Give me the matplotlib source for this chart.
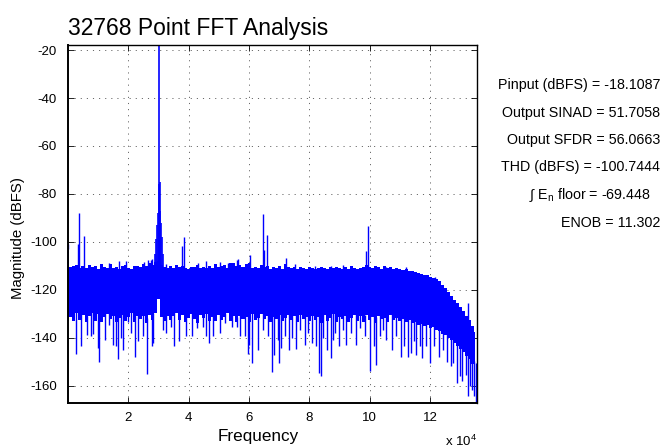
import numpy as np
import matplotlib
matplotlib.use("Agg")
import matplotlib.pyplot as plt

plt.rcParams['font.family'] = ['Liberation Sans', 'DejaVu Sans']
plt.rcParams['mathtext.fontset'] = 'custom'
plt.rcParams['mathtext.rm'] = 'Liberation Sans'
plt.rcParams['axes.unicode_minus'] = False
plt.rcParams['lines.scale_dashes'] = False

# Noise floor of the spectrum, read per 1 kHz bin (0 .. 135 kHz)
bin_hz = np.arange(136) * 1000.0
floor_top = [
    -101.0, -110.5, -110.0, -109.5, -110.8, -110.2, -111.0, -109.8, -110.6, -110.1,
    -111.2, -109.3, -110.4, -110.9, -109.1, -110.7, -110.3, -111.5, -110.0, -109.6,
    -110.8, -111.3, -110.2, -109.9, -110.6, -109.4, -110.1, -108.8, -109.7, -108.5,
    -108.0, -109.5, -110.4, -111.0, -110.2, -110.7, -109.8, -110.5, -110.1, -110.9,
    -111.2, -110.3, -110.6, -109.7, -110.8, -110.4, -110.9, -109.9, -110.7, -109.2,
    -110.5, -110.1, -109.6, -110.8, -109.0, -108.6, -110.2, -109.8, -110.5, -109.4,
    -108.9, -110.7, -110.3, -110.9, -109.7, -110.6, -110.2, -111.4, -110.6, -110.8,
    -110.1, -111.2, -109.3, -110.5, -110.9, -110.3, -111.1, -110.6, -110.8, -111.3,
    -110.4, -110.9, -111.5, -110.7, -110.3, -110.9, -111.2, -110.6, -111.0, -110.4,
    -110.8, -111.3, -110.5, -111.1, -110.2, -110.9, -111.4, -110.7, -110.3, -109.8,
    -110.5, -110.9, -110.2, -110.6, -111.3, -110.1, -110.8, -110.5, -111.2, -111.0,
    -111.4, -111.6, -111.3, -112.0, -112.3, -112.6, -112.8, -113.2, -113.6, -114.0,
    -114.5, -115.0, -115.6, -116.5, -117.8, -119.3, -120.8, -122.5, -124.2, -125.6,
    -127.3, -129.0, -130.8, -132.7, -134.9, -137.5,
]
floor_bot = [
    -133.0, -131.5, -133.0, -129.8, -132.4, -130.6, -133.5, -131.0, -129.5, -132.8,
    -130.2, -133.6, -131.4, -129.9, -132.1, -130.8, -133.2, -131.6, -130.3, -132.9,
    -131.2, -129.7, -133.4, -130.9, -132.3, -131.1, -133.8, -130.4, -132.6, -129.6,
    -124.0, -131.3, -133.1, -130.7, -132.5, -131.0, -129.8, -132.7, -130.5, -133.3,
    -131.8, -130.1, -132.2, -133.7, -130.6, -131.9, -129.9, -132.8, -131.2, -133.0,
    -130.4, -132.4, -131.5, -129.7, -132.9, -131.1, -133.5, -130.8, -132.1, -131.4,
    -133.2, -130.2, -132.6, -131.7, -129.9, -132.3, -130.9, -133.6, -131.3, -132.0,
    -130.5, -133.1, -131.8, -130.3, -132.7, -131.0, -133.4, -130.6, -132.2, -131.5,
    -133.0, -130.8, -132.5, -131.2, -133.8, -130.4, -132.9, -131.6, -130.1, -133.3,
    -131.4, -132.1, -130.7, -133.5, -131.9, -130.3, -132.8, -131.1, -133.2, -130.6,
    -132.4, -131.3, -133.7, -130.9, -132.0, -131.7, -133.4, -130.5, -132.6, -131.8,
    -133.1, -132.2, -133.6, -132.5, -134.0, -133.3, -134.6, -134.1, -135.2, -134.8,
    -136.0, -135.6, -136.9, -137.2, -138.3, -139.0, -140.1, -141.0, -142.3, -143.4,
    -144.8, -146.0, -147.5, -149.0, -150.8, -152.5,
]

# Fundamental tone and its skirt
tone_hz = [28960, 29260, 29660, 29860, 30060, 30260, 30460, 30660, 30860, 31260, 31560]
tone_db = [-105, -99, -93, -88, -76, -18.1, -75, -87, -92, -98, -105]

# Spurs and small peaks sticking out above the floor
spur_hz = [0, 3240, 3780, 5220, 13700, 17000, 19230, 25300, 26400, 27500,
           27840, 32500, 37880, 38540, 43000, 45900, 50350, 53100, 55870, 56400,
           59730, 60300, 64480, 64920, 65800, 72200, 75200, 81800, 87300, 91170,
           98680, 99450, 105500, 112150, 121750, 132570]
spur_db = [-101.0, -101.0, -88.0, -97.4, -108.9, -107.8, -107.8, -108.2, -107.5, -107.6,
           -107.2, -109.2, -101.7, -97.8, -108.6, -107.9, -108.2, -108.6, -107.5, -107.2,
           -108.9, -105.5, -88.3, -103.3, -97.1, -106.8, -109.4, -110.0, -110.0, -109.6,
           -104.0, -93.3, -110.3, -110.6, -114.7, -125.6]

# Deep dips below the floor
dip_hz = [2680, 4340, 6210, 7650, 8420, 10100, 10400, 12400, 13700, 15040,
          15920, 16470, 17600, 18350, 19800, 20900, 22200, 23100, 24750, 26070,
          27840, 28280, 31600, 32500, 34100, 35230, 36670, 39100, 41080, 42740,
          44600, 45710, 46800,
          48140, 50350, 52000, 54210, 55870, 56970, 58630, 59510, 60060, 60840,
          62820, 64700, 66140, 67460, 68340, 69670, 69890, 70550, 71880, 73310,
          74300, 75410, 76840, 78500, 79600, 80930, 82030, 83030, 83800, 84570,
          85680, 87110, 87660, 88440, 89870, 91200,
          92280, 93930, 95370, 96910, 98350, 100010, 101440, 102210, 103540, 104420,
          105530, 107400, 108840, 110490, 111270, 112700, 113810, 114580, 115240, 116570,
          117450, 118770, 120100, 121310, 122970, 124290, 125620, 126830, 127610, 128930,
          130030, 130700, 131800, 132460, 133350, 134010, 134560, 135120]
dip_db = [-146.8, -143.6, -138.8, -139.4, -138.3, -144.3, -150.1, -140.8, -134.6, -142.9,
          -143.6, -148.9, -140.1, -145.0, -133.2, -138.0, -147.8, -141.5, -139.4, -155.1,
          -143.6, -142.2, -136.7, -138.0, -135.3, -143.6, -141.5, -139.4, -139.4, -136.0,
          -135.3, -139.4, -142.2,
          -139.4, -138.0, -133.9, -135.3, -135.3, -139.4, -139.4, -146.8, -142.9, -150.6,
          -145.0, -136.7, -139.4, -154.3, -147.1, -140.8, -150.3, -144.3, -139.4, -145.0,
          -140.1, -144.6, -136.7, -142.9, -138.0, -142.2, -143.6, -154.7, -155.8, -140.1,
          -145.0, -148.5, -140.8, -138.0, -143.3, -136.7,
          -142.9, -138.0, -142.9, -136.0, -139.4, -154.0, -143.6, -151.2, -139.4, -136.7,
          -140.8, -145.0, -139.4, -147.8, -143.6, -147.8, -146.4, -141.5, -147.1, -143.6,
          -148.5, -143.6, -150.6, -143.6, -147.8, -145.0, -149.9, -151.9, -150.6, -158.9,
          -156.1, -158.2, -155.4, -164.4, -160.3, -161.7, -164.4, -167.2]

# Metrics shown to the right of the plot
metric_labels = [
    'Pinput (dBFS) = -18.1087',
    'Output SINAD = 51.7058',
    'Output SFDR = 56.0663',
    'THD (dBFS) = -100.7444',
    '\u222b E$_\\mathregular{n}$ floor = -69.448',
    'ENOB = 11.302',
]

x_ticks = [20000, 40000, 60000, 80000, 100000, 120000]
x_tick_labels = ['2', '4', '6', '8', '10', '12']
y_ticks = [-160, -140, -120, -100, -80, -60, -40, -20]

blue = '#0000ff'

fig = plt.figure(figsize=(6.65, 4.47), dpi=100)
ax = fig.add_axes([0.1021, 0.0978, 0.6156, 0.8015])

# noise band
ax.fill_between(bin_hz, floor_bot, floor_top, step='mid', color=blue, lw=0)

# dips: from inside the band down to the read level
dip_start = np.interp(dip_hz, bin_hz, floor_bot) + 2
ax.vlines(dip_hz, dip_db, dip_start, color=blue, lw=1.0)

# spurs: from inside the band up to the read level
spur_start = np.interp(spur_hz, bin_hz, floor_top) - 2
ax.vlines(spur_hz, spur_start, spur_db, color=blue, lw=1.0)

# fundamental
ax.vlines(tone_hz, -115, tone_db, color=blue, lw=1.2)

ax.set_xlim(0, 135600)
ax.set_ylim(-167.3, -17.9)
ax.set_xticks(x_ticks)
ax.set_xticklabels(x_tick_labels)
ax.set_yticks(y_ticks)
ax.set_yticklabels([str(v) for v in y_ticks])
ax.tick_params(direction='in', top=True, right=True, length=4, width=0.6,
               labelsize=9.5)
ax.tick_params(axis='x', pad=6)
ax.tick_params(axis='y', pad=8)

ax.set_axisbelow(True)
ax.grid(True, color='0.3', lw=0.6, linestyle=(0, (0.8, 3.6)))

for side in ['left', 'bottom']:
    ax.spines[side].set_linewidth(1.4)
for side in ['top', 'right']:
    ax.spines[side].set_linewidth(1.0)

ax.set_title('32768 Point FFT Analysis', loc='left', fontsize=16.5, pad=7)
ax.set_xlabel('Frequency', fontsize=12.3)
ax.xaxis.set_label_coords(0.466, -0.073)
ax.set_ylabel('Magnitude (dBFS)', fontsize=10.8)
ax.yaxis.set_label_coords(-0.105, 0.461)
ax.text(1.0, -0.105, 'x 10$^\\mathregular{4}$', transform=ax.transAxes,
        ha='right', va='center', fontsize=9.5)

text_y = [0.8098, 0.7465, 0.6868, 0.6257, 0.5638, 0.5004]
text_x = [0.9925, 0.9925, 0.9925, 0.9925, 0.979, 0.9925]
for label, tx, ty in zip(metric_labels, text_x, text_y):
    fig.text(tx, ty, label, ha='right', va='center', fontsize=10.3)

fig.savefig('out.png', dpi=100)
